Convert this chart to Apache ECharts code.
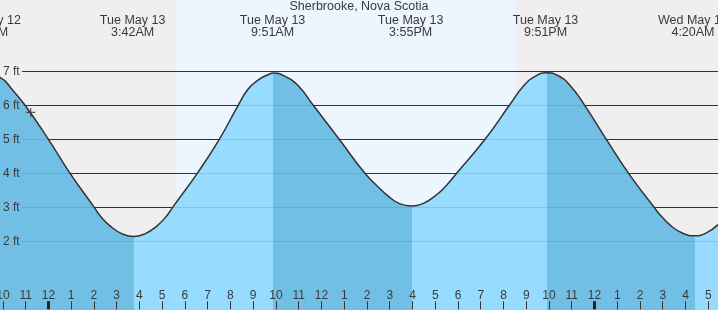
<!DOCTYPE html>
<html><head><meta charset="utf-8">
<script src="https://cdn.jsdelivr.net/npm/echarts@6/dist/echarts.min.js"></script>
<style>html,body{margin:0;padding:0;background:#fff}#c{width:718px;height:310px}</style>
</head><body><div id="c"></div>
<script>
// ---- data (hours relative to Tue May 13 00:00, heights in ft) ----
const chartTitle = 'Sherbrooke, Nova Scotia';
const tideHours = [-2.72, -2.13, -1.58, -1.03, 0.00, 0.95, 2.01, 2.27, 2.73, 3.24, 3.74, 4.24, 4.75, 5.21, 5.46, 6.54, 7.51, 8.34, 8.77, 9.21, 9.65, 9.89, 10.38, 10.97, 11.64, 12.78, 13.91, 14.46, 14.95, 15.46, 15.96, 16.46, 16.97, 17.46, 17.94, 19.19, 20.26, 20.90, 21.41, 21.91, 22.41, 22.92, 23.57, 24.52, 25.50, 26.62, 26.90, 27.39, 27.90, 28.40, 28.90, 29.43];
const tideFeet  = [6.90, 6.82, 6.45, 6.00, 5.00, 4.00, 3.00, 2.75, 2.44, 2.22, 2.14, 2.22, 2.44, 2.76, 3.00, 4.00, 5.00, 6.00, 6.47, 6.74, 6.90, 6.95, 6.86, 6.58, 6.00, 5.00, 4.00, 3.62, 3.32, 3.10, 3.04, 3.11, 3.32, 3.62, 4.00, 5.00, 6.00, 6.58, 6.86, 6.96, 6.87, 6.59, 6.00, 5.00, 4.00, 3.00, 2.77, 2.44, 2.23, 2.16, 2.24, 2.49];
const extremeHours  = [-2.72, 3.70, 9.85, 15.92, 21.85, 28.33];
const extremeLabels = ['Mon May 12\n9:17PM', 'Tue May 13\n3:42AM', 'Tue May 13\n9:51AM', 'Tue May 13\n3:55PM', 'Tue May 13\n9:51PM', 'Wed May 14\n4:20AM'];
const shadeBreaks = [3.74, 9.89, 15.96, 21.91, 28.40]; // falling tide before first break
const bandStarts = [-2.13, 5.66, 20.51];
const bandEnds   = [5.66, 20.51, 29.43];
const bandIsDay  = [0, 1, 0];
const hourTicks = [-2,-1,0,1,2,3,4,5,6,7,8,9,10,11,12,13,14,15,16,17,18,19,20,21,22,23,24,25,26,27,28,29];
const midnightTicks = [0, 24];
const footTicks = [2, 3, 4, 5, 6, 7];
const nowMarker = [[-0.78, 5.79]];

// ---- view settings ----
const X_MIN = -2.13, X_MAX = 29.43, Y_MIN = -0.02, Y_MAX = 9.097;
const DARK = '#72bfe5', LIGHT = '#97dbfe';
const BAND_COLORS = ['#efefef', '#edf6fe'];
const FONT = '"Liberation Sans", Arial, sans-serif';
const TXT = '#3a3a3a';

const tideData = tideHours.map((h, i) => [h, tideFeet[i]]);
const bands = bandStarts.map((s, i) => [s, bandEnds[i], bandIsDay[i]]);

const pieces = [];
let prev = -100, dark = true;
shadeBreaks.concat([100]).forEach(b => {
  pieces.push({ gte: prev, lt: b, color: dark ? DARK : LIGHT });
  prev = b; dark = !dark;
});

const G = { right: 0, top: 0, bottom: 0, containLabel: false, outerBoundsMode: 'none' };
const chart = echarts.init(document.getElementById('c'), null, { renderer: 'canvas' });
const option = {
  animation: false,
  backgroundColor: '#ffffff',
  title: {
    text: chartTitle, left: 'center', top: 0, padding: 0,
    textStyle: { fontSize: 12.5, fontWeight: 'normal', color: TXT, fontFamily: FONT }
  },
  grid: [
    Object.assign({ left: 0 }, G),
    Object.assign({ left: 22 }, G),
    Object.assign({ left: 0 }, G)
  ],
  xAxis: [
    { type: 'value', gridIndex: 0, min: X_MIN, max: X_MAX, position: 'bottom', z: 10,
      axisLine: { show: false }, splitLine: { show: false },
      axisTick: { show: true, inside: true, length: 8, customValues: hourTicks, lineStyle: { color: '#333', width: 1 } },
      axisLabel: { show: true, inside: true, margin: 8, customValues: hourTicks, color: TXT, fontSize: 12, fontFamily: FONT,
        hideOverlap: false, showMinLabel: true, showMaxLabel: true,
        formatter: v => { const h = ((Math.round(v) % 12) + 12) % 12; return String(h === 0 ? 12 : h); } } },
    { type: 'value', gridIndex: 2, min: X_MIN, max: X_MAX, position: 'bottom', z: 11,
      axisLine: { show: false }, splitLine: { show: false }, axisLabel: { show: false },
      axisTick: { show: true, inside: true, length: 8, customValues: midnightTicks, lineStyle: { color: '#222', width: 3 } } },
    { type: 'value', gridIndex: 1, min: 0, max: 1, show: false }
  ],
  yAxis: [
    { type: 'value', gridIndex: 0, min: Y_MIN, max: Y_MAX, show: false },
    { type: 'value', gridIndex: 1, min: Y_MIN, max: Y_MAX, position: 'left', z: 0,
      axisLine: { show: false }, axisLabel: { show: false },
      axisTick: { show: false, customValues: footTicks },
      splitLine: { show: true, lineStyle: { color: '#333', width: 1 } } },
    { type: 'value', gridIndex: 1, min: Y_MIN, max: Y_MAX, position: 'right', z: 10,
      axisLine: { show: false }, axisLabel: { show: false },
      axisTick: { show: false, customValues: footTicks },
      splitLine: { show: true, lineStyle: { color: 'rgba(0,50,100,0.13)', width: 1 } } },
    { type: 'value', gridIndex: 2, min: Y_MIN, max: Y_MAX, position: 'left', z: 10,
      axisLine: { show: false }, splitLine: { show: false },
      axisTick: { show: false, customValues: footTicks },
      axisLabel: { show: true, inside: true, customValues: footTicks, margin: 3, color: TXT, fontSize: 12, fontFamily: FONT, formatter: '{value} ft' } }
  ],
  visualMap: {
    show: false, type: 'piecewise', seriesIndex: 1, dimension: 0, pieces: pieces
  },
  series: [
    { type: 'custom', xAxisIndex: 0, yAxisIndex: 0, z: -1, silent: true, data: bands,
      renderItem: (params, api) => {
        const p0 = api.coord([api.value(0), Y_MAX]);
        const p1 = api.coord([api.value(1), Y_MIN]);
        return { type: 'rect', shape: { x: p0[0], y: p0[1], width: p1[0] - p0[0], height: p1[1] - p0[1] },
          style: { fill: BAND_COLORS[bands[params.dataIndex][2]], stroke: null } };
      },
      encode: { x: [0, 1] } },
    { type: 'line', xAxisIndex: 0, yAxisIndex: 0, z: 2, data: tideData, smooth: 0.5, symbol: 'none',
      lineStyle: { width: 0 }, areaStyle: { opacity: 1, origin: 'start' }, silent: true },
    { type: 'line', xAxisIndex: 0, yAxisIndex: 0, z: 3, data: tideData, smooth: 0.5, symbol: 'none',
      lineStyle: { color: '#333', width: 1.5 }, silent: true },
    { type: 'scatter', xAxisIndex: 0, yAxisIndex: 0, z: 4, data: nowMarker,
      symbol: 'path://M0,5L10,5M5,0L5,10', symbolSize: 9,
      itemStyle: { color: 'rgba(0,0,0,0)', borderColor: '#333', borderWidth: 1.2 }, silent: true }
  ]
};
chart.setOption(option);

const graphics = extremeHours.map((h, i) => ({
  type: 'text', silent: true, z: 20,
  x: chart.convertToPixel({ xAxisIndex: 0 }, h), y: 15,
  style: { text: extremeLabels[i], textAlign: 'center', textVerticalAlign: 'top', lineHeight: 12,
    font: '12.5px ' + FONT, fill: TXT }
}));
chart.setOption({ graphic: graphics });
</script>
</body></html>
